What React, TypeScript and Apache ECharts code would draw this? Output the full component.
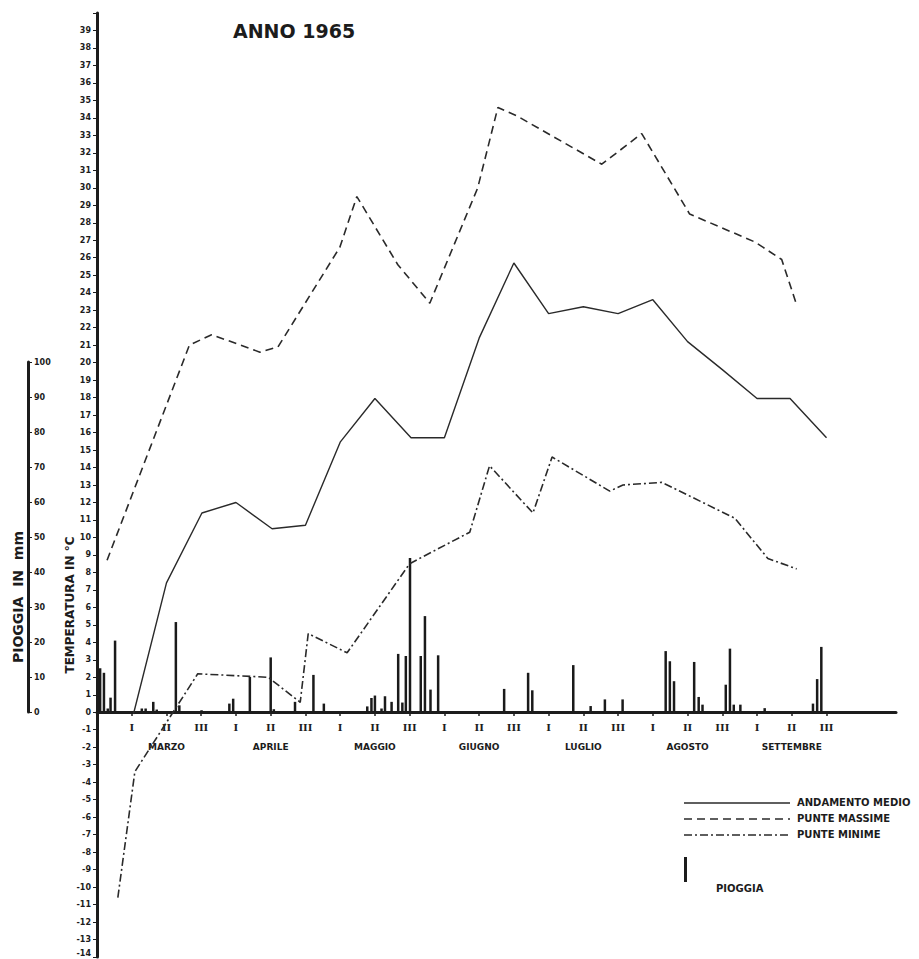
import React, { useEffect, useRef } from "react";
import * as echarts from "echarts";

const decadeNames = ["I", "II", "III"];
const months = ["MARZO", "APRILE", "MAGGIO", "GIUGNO", "LUGLIO", "AGOSTO", "SETTEMBRE"];
const decadeTicks = Array.from({ length: 21 }, (_, i) => i + 1);
const monthTicks = [2, 5, 8, 11, 14, 17, 20];

// [decade position, °C]
const meanTemp = [
  [1.05, -0.1], [2, 7.4], [3.02, 11.4], [4, 12.0], [5.04, 10.5], [6, 10.7], [7, 15.45],
  [8, 17.95], [9.04, 15.7], [10, 15.7], [11, 21.4], [12, 25.7], [13, 22.8], [14, 23.2],
  [15, 22.8], [16, 23.6], [17, 21.2], [18, 19.6], [19, 17.95], [19.95, 17.95], [21, 15.7],
];
const maxTemp = [
  [0.29, 8.7], [2.66, 21.0], [3.3, 21.6], [4.69, 20.6], [5.21, 20.9], [6.99, 26.6],
  [7.48, 29.5], [8.66, 25.6], [9.58, 23.4], [10.96, 30.0], [11.54, 34.6], [12.1, 34.1],
  [14.53, 31.35], [15.68, 33.1], [17.06, 28.5], [18.94, 26.9], [19.71, 25.9], [20.14, 23.3],
];
const minTemp = [
  [0.6, -10.6], [1.09, -3.4], [2.9, 2.2], [4.93, 2.0], [5.85, 0.57], [6.08, 4.5],
  [7.2, 3.4], [9.0, 8.5], [10.73, 10.3], [11.3, 14.1], [12.55, 11.4], [13.1, 14.6],
  [14.76, 12.65], [15.14, 13.0], [16.26, 13.15], [18.36, 11.1], [19.31, 8.8], [20.14, 8.2],
];
// [decade position, mm]
const rain = [
  [0.09, 12.5], [0.2, 11.2], [0.31, 1], [0.39, 4.1], [0.52, 20.4], [1.29, 1], [1.4, 1],
  [1.62, 2.9], [1.72, 0.7], [2.27, 25.7], [2.37, 1.9], [3.01, 0.5], [3.81, 2.4], [3.92, 3.8],
  [4.4, 10], [5.0, 15.6], [5.09, 0.8], [5.7, 2.9], [6.23, 10.6], [6.53, 2.4], [7.78, 1.6],
  [7.9, 4], [8.0, 4.7], [8.19, 1], [8.29, 4.5], [8.48, 2.9], [8.67, 16.6], [8.79, 2.7],
  [8.89, 16], [9.01, 44], [9.32, 16], [9.44, 27.4], [9.6, 6.4], [9.82, 16.2], [11.72, 6.6],
  [12.41, 11.2], [12.53, 6.2], [13.71, 13.4], [14.21, 1.7], [14.62, 3.6], [15.13, 3.6],
  [16.37, 17.4], [16.49, 14.5], [16.61, 8.8], [17.19, 14.3], [17.32, 4.3], [17.43, 2.1],
  [18.1, 7.8], [18.22, 18.1], [18.33, 2.1], [18.52, 2.1], [19.22, 1.1], [20.61, 2.4],
  [20.73, 9.4], [20.85, 18.6],
];
const legendNames = ["ANDAMENTO MEDIO", "PUNTE MASSIME", "PUNTE MINIME"];

const INK = "#1c1c1c";
const LINE = "#2a2a2a";
const DASH_MAX = [8, 5];
const DASH_MIN = [8, 3, 2, 3];

export default function App() {
  const ref = useRef<HTMLDivElement>(null);
  useEffect(() => {
    const chart = echarts.init(ref.current!, null, { renderer: "svg" });
    const legendY = [803, 819, 835];
    const legendDash: any[] = [null, DASH_MAX, DASH_MIN];
    const legendGraphics: any[] = [];
    legendNames.forEach((n, i) => {
      legendGraphics.push({
        type: "line",
        shape: { x1: 684, y1: legendY[i], x2: 790, y2: legendY[i] },
        style: { stroke: LINE, lineWidth: 1.5, lineDash: legendDash[i] || undefined },
      });
      legendGraphics.push({
        type: "text", x: 797, y: legendY[i] - 1,
        style: {
          text: n, fontSize: 10, fontWeight: "bold", fontFamily: "DejaVu Sans", fill: INK,
          verticalAlign: "middle",
        },
      });
    });
    legendGraphics.push({
      type: "rect", shape: { x: 684, y: 857, width: 3, height: 25 }, style: { fill: INK },
    });
    legendGraphics.push({
      type: "text", x: 716, y: 888,
      style: {
        text: "PIOGGIA", fontSize: 10, fontWeight: "bold", fontFamily: "DejaVu Sans", fill: INK,
        verticalAlign: "middle",
      },
    });

    const option: any = {
      animation: false,
      backgroundColor: "#ffffff",
      grid: [
        { left: 97, right: 23, top: 13, height: 944, outerBoundsMode: "none" },
        { left: 97, right: 23, top: 362, height: 350, outerBoundsMode: "none" },
      ],
      xAxis: [
        { type: "value", gridIndex: 0, min: 0, max: 23, show: false },
        {
          type: "value", gridIndex: 1, min: 0, max: 23, interval: 1,
          splitLine: { show: false },
          axisLine: { onZero: false, lineStyle: { color: INK, width: 3 } },
          axisTick: { customValues: decadeTicks, length: 4, lineStyle: { color: INK, width: 1.5 } },
          axisLabel: {
            customValues: decadeTicks,
            margin: 9,
            showMinLabel: true,
            showMaxLabel: true,
            hideOverlap: false,
            fontFamily: "DejaVu Serif", fontWeight: "bold", fontSize: 10, color: INK, lineHeight: 13,
            formatter: (v: number) => decadeNames[(Math.round(v) - 1) % 3],
          },
        },
        {
          type: "value", gridIndex: 1, min: 0, max: 23, interval: 1, position: "bottom",
          splitLine: { show: false },
          axisLine: { show: false, onZero: false },
          axisTick: { show: false },
          axisLabel: {
            customValues: monthTicks,
            margin: 29,
            showMinLabel: true,
            showMaxLabel: true,
            hideOverlap: false,
            fontFamily: "DejaVu Sans", fontWeight: "bold", fontSize: 9, color: INK, lineHeight: 12,
            formatter: (v: number) => months[Math.round((v - 2) / 3)],
          },
        },
      ],
      yAxis: [
        {
          type: "value", gridIndex: 0, min: -14, max: 40, interval: 1,
          splitLine: { show: false },
          axisLine: { show: true, onZero: false, lineStyle: { color: INK, width: 3 } },
          axisTick: { show: true, length: 4, lineStyle: { color: INK, width: 1 } },
          axisLabel: {
            margin: 6, fontSize: 8, fontWeight: "bold", fontFamily: "DejaVu Sans", color: INK,
            formatter: (v: number) => (v === 40 ? "" : v === -14 ? "{lo|-14}" : String(v)),
            rich: {
              lo: { fontSize: 8, fontWeight: "bold", fontFamily: "DejaVu Sans", color: INK, padding: [0, 0, 8, 0] },
            },
          },
        },
        {
          type: "value", gridIndex: 1, min: 0, max: 100, interval: 10, position: "left", offset: 69,
          splitLine: { show: false },
          axisLine: { show: true, onZero: false, lineStyle: { color: INK, width: 3 } },
          axisTick: { show: true, inside: true, length: 4, lineStyle: { color: INK, width: 1 } },
          axisLabel: {
            inside: true, margin: 6, fontSize: 8, fontWeight: "bold", fontFamily: "DejaVu Sans", color: INK,
          },
        },
      ],
      series: [
        {
          name: legendNames[0], type: "line", xAxisIndex: 0, yAxisIndex: 0, data: meanTemp,
          symbol: "none", lineStyle: { color: LINE, width: 1.4, type: "solid" },
        },
        {
          name: legendNames[1], type: "line", xAxisIndex: 0, yAxisIndex: 0, data: maxTemp,
          symbol: "none", lineStyle: { color: LINE, width: 1.6, type: DASH_MAX },
        },
        {
          name: legendNames[2], type: "line", xAxisIndex: 0, yAxisIndex: 0, data: minTemp,
          symbol: "none", lineStyle: { color: LINE, width: 1.6, type: DASH_MIN },
        },
        {
          name: "PIOGGIA", type: "bar", xAxisIndex: 1, yAxisIndex: 1, data: rain,
          barWidth: 2.5, itemStyle: { color: "#1a1a1a" },
        },
      ],
      graphic: [
        {
          type: "text", left: 233, top: 21,
          style: { text: "ANNO 1965", fontSize: 19, fontWeight: "bold", fontFamily: "DejaVu Sans", fill: INK },
        },
        {
          type: "text", x: 70, y: 605, rotation: Math.PI / 2,
          style: {
            text: "TEMPERATURA IN °C", fontSize: 12, fontWeight: "bold", fontFamily: "DejaVu Sans",
            fill: INK, align: "center", verticalAlign: "middle",
          },
        },
        {
          type: "text", x: 18, y: 597, rotation: Math.PI / 2,
          style: {
            text: "PIOGGIA  IN  mm", fontSize: 14, fontWeight: "bold", fontFamily: "DejaVu Sans",
            fill: INK, align: "center", verticalAlign: "middle",
          },
        },
        ...legendGraphics,
      ],
    };
    chart.setOption(option);
    return () => chart.dispose();
  }, []);
  return (
    <div
      ref={ref}
      style={{ position: "fixed", left: 0, top: 0, width: 919, height: 959 }}
    />
  );
}
